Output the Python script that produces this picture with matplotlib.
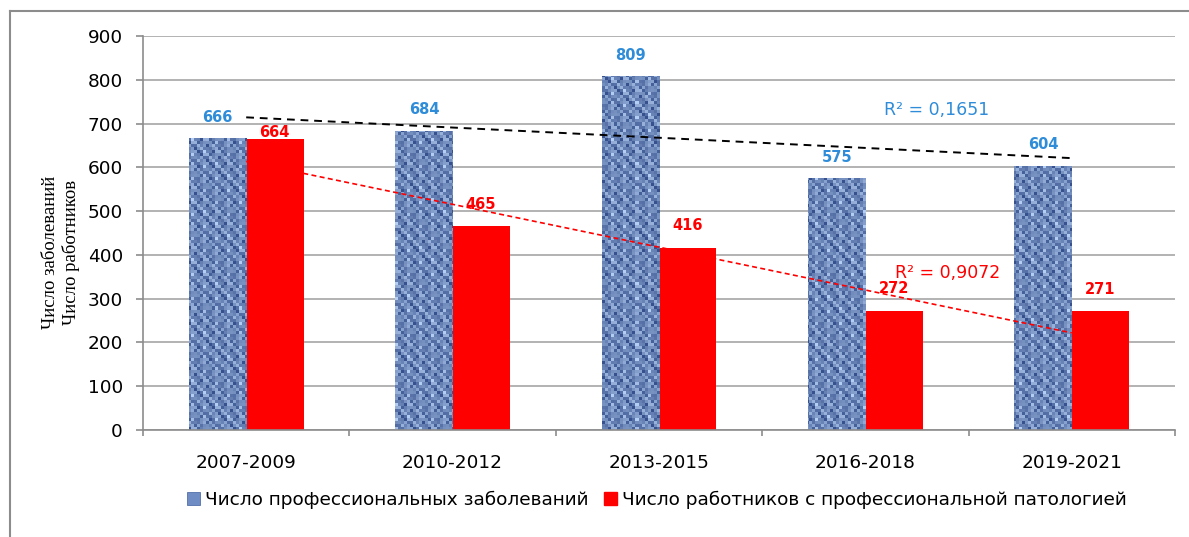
import numpy as np
import matplotlib
matplotlib.use('Agg')
import matplotlib.pyplot as plt
from matplotlib.lines import Line2D
from matplotlib.patches import Patch

# Данные
periods = ['2007-2009', '2010-2012', '2013-2015', '2016-2018', '2019-2021']
diseases = [666, 684, 809, 575, 604]
workers = [664, 465, 416, 272, 271]
label_diseases = 'Число профессиональных заболеваний'
label_workers = 'Число работников с профессиональной патологией'
ylabel_text = 'Число заболеваний\nЧисло работников'

BLUE_LBL = '#2e8cd8'
RED = '#ff0000'
GRID = '#a6a6a6'
SPINE = '#8c8c8c'

plt.rcParams['font.family'] = ['DejaVu Sans']

fig = plt.figure(figsize=(11.89, 5.37), dpi=100)
ax = fig.add_axes([143 / 1189, 107 / 537, 1032 / 1189, 394 / 537])

x = np.arange(len(periods))
w = 0.28
off = 0.138

blue_bars = ax.bar(x - off, diseases, width=w, color='#6f8cc4', linewidth=0, zorder=2)
red_bars = ax.bar(x + off, workers, width=w, color=RED, linewidth=0, zorder=2)

# текстура "деним" для синих столбцов
ny, nx = 131, 344
yy, xx = np.mgrid[0:ny, 0:nx]
checker = ((xx // 2 + yy // 2) % 2).astype(float)
speck = ((xx * 7 + yy * 13) % 5) / 4
streak = ((xx % 4) == 0).astype(float)
weave = 0.5 + 0.25 * (checker - 0.5) + 0.45 * (speck - 0.5) + 0.2 * (streak - 0.25)
weave = np.clip(weave, 0, 1)
dark = np.array([40, 68, 130]) / 255
light = np.array([180, 205, 242]) / 255
tex = dark[None, None, :] + weave[:, :, None] * (light - dark)[None, None, :]
for b in blue_bars:
    im = ax.imshow(tex, extent=(-0.5, 4.5, 0, 900), aspect='auto',
                   interpolation='nearest', zorder=2.5)
    im.set_clip_path(b)

# линии тренда
def trend(y):
    k, c = np.polyfit(x, y, 1)
    fit = k * x + c
    r2 = 1 - np.sum((np.array(y) - fit) ** 2) / np.sum((np.array(y) - np.mean(y)) ** 2)
    return fit, r2

fit_d, r2_d = trend(diseases)
fit_w, r2_w = trend(workers)
ax.plot(x, fit_d, color='black', linestyle=(0, (4, 3)), linewidth=1.4, zorder=3)
ax.plot(x, fit_w, color=RED, linestyle=(0, (3, 2)), linewidth=1.2, zorder=3)

ax.text(3.347, 731, 'R² = ' + f'{r2_d:.4f}'.replace('.', ','), color=BLUE_LBL,
        fontsize=12.5, ha='center', va='center', zorder=4)
ax.text(3.40, 359, 'R² = ' + f'{r2_w:.4f}'.replace('.', ','), color=RED,
        fontsize=12.5, ha='center', va='center', zorder=4)

# подписи значений
for xi, v in zip(x, diseases):
    ax.annotate(str(v), (xi - off, v), xytext=(0, 15), textcoords='offset points',
                ha='center', va='center', color=BLUE_LBL, fontsize=10.5,
                fontweight='bold', zorder=4)
for i, (xi, v) in enumerate(zip(x, workers)):
    dy = 5 if i == 0 else 16
    ax.annotate(str(v), (xi + off, v), xytext=(0, dy), textcoords='offset points',
                ha='center', va='center', color=RED, fontsize=10.5,
                fontweight='bold', zorder=4)

ax.set_xlim(-0.5, 4.5)
ax.set_ylim(0, 900)
ax.set_yticks(range(0, 901, 100))
ax.set_xticks(x)
ax.set_xticklabels(periods)
ax.set_xticks(np.arange(-0.5, 5, 1), minor=True)
ax.tick_params(axis='y', length=5, color=SPINE, labelsize=13.3, pad=9.5, width=1.2)
ax.tick_params(axis='x', which='major', length=0, labelsize=13.3, pad=17)
ax.tick_params(axis='x', which='minor', length=4.5, color=SPINE, width=1.2)

ax.grid(axis='y', color=GRID, linewidth=1.2, zorder=0)
ax.set_axisbelow(True)
for s in ['top', 'right']:
    ax.spines[s].set_visible(False)
for s in ['left', 'bottom']:
    ax.spines[s].set_color(SPINE)
    ax.spines[s].set_linewidth(1.2)

fig.text(61 / 1189, 1 - 252 / 537, ylabel_text, rotation=90, ha='center', va='center',
         family='Liberation Serif', fontsize=13.5, linespacing=1.15)

handles = [Patch(facecolor='#6f8cc4', edgecolor='#3d5f9e', linewidth=0.5),
           Patch(facecolor=RED, edgecolor=RED)]
fig.legend(handles, [label_diseases, label_workers], loc='center',
           bbox_to_anchor=(657 / 1189, 1 - 500 / 537), ncol=2, frameon=False,
           fontsize=13.3, handlelength=0.7, handleheight=0.7, handletextpad=0.3,
           columnspacing=0.8)

# рамка
fig.add_artist(Line2D([10 / 1189, 10 / 1189], [-0.1, 1 - 11 / 537], color=SPINE, linewidth=1.5))
fig.add_artist(Line2D([10 / 1189, 1.1], [1 - 11 / 537, 1 - 11 / 537], color=SPINE, linewidth=1.5))

fig.savefig('out.png', dpi=100)
